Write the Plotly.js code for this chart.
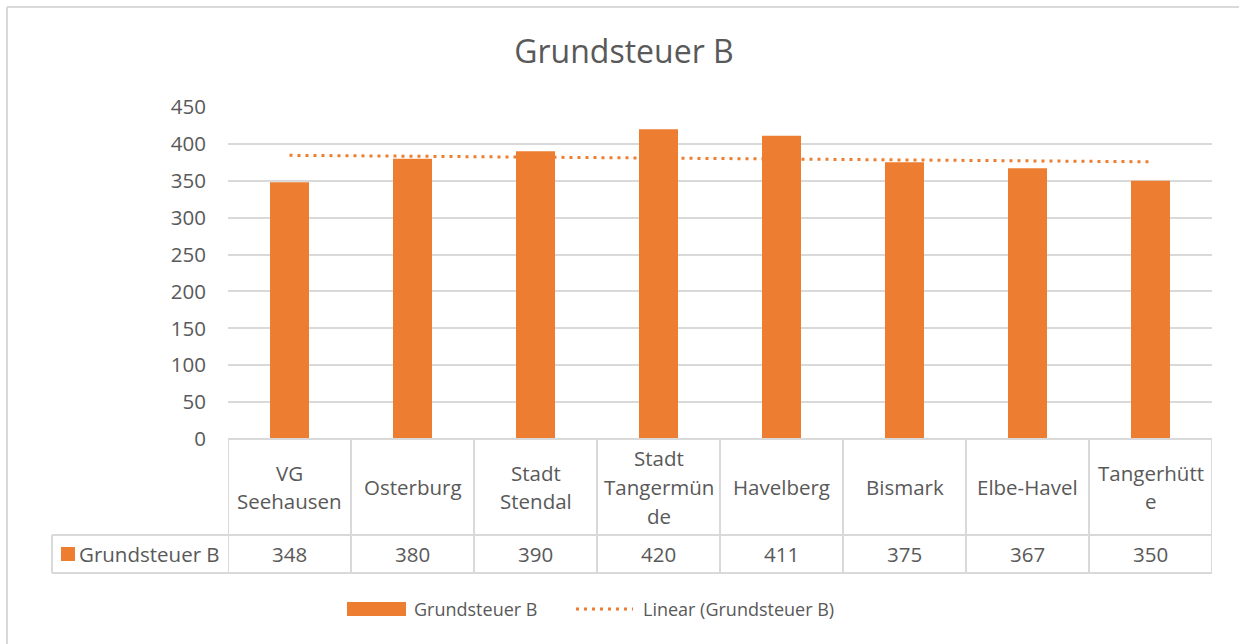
<!DOCTYPE html>
<html>
<head>
<meta charset="utf-8">
<script src="https://cdn.plot.ly/plotly-3.0.1.min.js"></script>
<style>
html,body{margin:0;padding:0;background:#fff;}
#chart{width:1239px;height:644px;}
</style>
</head>
<body>
<div id="chart"></div>
<script>
// ---- data ----
const seriesName = "Grundsteuer B";
const trendName = "Linear (Grundsteuer B)";
const categories = ["VG\nSeehausen", "Osterburg", "Stadt\nStendal", "Stadt\nTangermün\nde", "Havelberg", "Bismark", "Elbe-Havel", "Tangerhütt\ne"];
const values = [348, 380, 390, 420, 411, 375, 367, 350];
const yTicks = [0, 50, 100, 150, 200, 250, 300, 350, 400, 450];

// ---- layout geometry ----
const W = 1239, H = 644;
const PL = 228, PR = 1212, PT = 107, PB = 439;
const px = v => (v - PL) / (PR - PL);
const py = v => (PB - v) / (PB - PT);

const ORANGE = "#ED7D31";
const TEXT = "#595959";
const GRID = "#D9D9D9";
const FONT = "Open Sans, sans-serif";
const FS = 20.5;

const idx = categories.map((_, i) => i);

// linear trendline (least squares on category index)
const n = values.length;
const mx = idx.reduce((a, b) => a + b, 0) / n;
const my = values.reduce((a, b) => a + b, 0) / n;
let sxy = 0, sxx = 0;
idx.forEach((x, i) => { sxy += (x - mx) * (values[i] - my); sxx += (x - mx) * (x - mx); });
const slope = sxy / sxx;
const icpt = my - slope * mx;
const trendX = [idx[0], idx[n - 1]];
const trendY = trendX.map(x => icpt + slope * x);

const traces = [
  {
    type: "bar", x: idx, y: values, name: seriesName,
    marker: { color: ORANGE }, hoverinfo: "x+y", showlegend: false
  },
  {
    type: "scatter", mode: "lines", x: trendX, y: trendY, name: trendName,
    line: { color: ORANGE, width: 3, dash: "3px,5px" }, showlegend: false
  }
];

const shapes = [];
const annotations = [];
const lineStyle = { color: GRID, width: 2 };

// outer chart border
shapes.push({ type: "line", xref: "paper", yref: "paper", x0: px(7), x1: px(W + 5), y0: py(7), y1: py(7), line: lineStyle });
shapes.push({ type: "line", xref: "paper", yref: "paper", x0: px(7), x1: px(7), y0: py(7), y1: py(H + 5), line: lineStyle });

// data table grid
const rowTop = PB, rowMid = 535, rowBot = 573, tableLeft = 52;
shapes.push({ type: "line", xref: "paper", yref: "paper", x0: 0, x1: 1, y0: py(rowTop), y1: py(rowTop), line: lineStyle });
shapes.push({ type: "line", xref: "paper", yref: "paper", x0: px(tableLeft), x1: 1, y0: py(rowMid), y1: py(rowMid), line: lineStyle });
shapes.push({ type: "line", xref: "paper", yref: "paper", x0: px(tableLeft), x1: 1, y0: py(rowBot), y1: py(rowBot), line: lineStyle });
shapes.push({ type: "line", xref: "paper", yref: "paper", x0: px(tableLeft), x1: px(tableLeft), y0: py(rowMid), y1: py(rowBot), line: lineStyle });
for (let i = 0; i <= n; i++) {
  shapes.push({ type: "line", xref: "x", yref: "paper", x0: i - 0.5, x1: i - 0.5, y0: py(rowTop), y1: py(rowBot), line: lineStyle });
}

// category labels (multi-line) and values
const lineH = 29;
categories.forEach((c, i) => {
  const lines = c.split("\n");
  lines.forEach((t, j) => {
    const yc = (rowTop + rowMid) / 2 + (j - (lines.length - 1) / 2) * lineH;
    annotations.push({ xref: "x", yref: "paper", x: i, y: py(yc), text: t, showarrow: false,
      xanchor: "center", yanchor: "middle", font: { family: FONT, size: FS, color: TEXT } });
  });
  annotations.push({ xref: "x", yref: "paper", x: i, y: py((rowMid + rowBot) / 2), text: String(values[i]), showarrow: false,
    xanchor: "center", yanchor: "middle", font: { family: FONT, size: FS, color: TEXT } });
});

// table row header with key
shapes.push({ type: "rect", xref: "paper", yref: "paper", x0: px(61), x1: px(75), y0: py(547), y1: py(561), fillcolor: ORANGE, line: { width: 0 } });
annotations.push({ xref: "paper", yref: "paper", x: px(77), y: py(554), text: seriesName, showarrow: false,
  xanchor: "left", yanchor: "middle", font: { family: FONT, size: FS, color: TEXT } });

// legend (bottom)
const legY = 609;
shapes.push({ type: "rect", xref: "paper", yref: "paper", x0: px(347), x1: px(406), y0: py(602), y1: py(616), fillcolor: ORANGE, line: { width: 0 } });
annotations.push({ xref: "paper", yref: "paper", x: px(412), y: py(legY), text: seriesName, showarrow: false,
  xanchor: "left", yanchor: "middle", font: { family: FONT, size: 18, color: TEXT } });
shapes.push({ type: "line", xref: "paper", yref: "paper", x0: px(576), x1: px(633), y0: py(legY), y1: py(legY), line: { color: ORANGE, width: 3, dash: "3px,5px" } });
annotations.push({ xref: "paper", yref: "paper", x: px(641), y: py(legY), text: trendName, showarrow: false,
  xanchor: "left", yanchor: "middle", font: { family: FONT, size: 18, color: TEXT } });

const layout = {
  width: W, height: H,
  margin: { l: PL, r: W - PR, t: PT, b: H - PB, pad: 0 },
  paper_bgcolor: "#fff", plot_bgcolor: "#fff",
  title: { text: seriesName, x: 624 / W, xref: "container", xanchor: "center", y: 1 - 52 / H, yref: "container", yanchor: "middle",
    font: { family: FONT, size: 32, color: TEXT } },
  bargap: 0.683,
  xaxis: { range: [-0.5, n - 0.5], showticklabels: false, showgrid: false, zeroline: false, showline: false, ticks: "", fixedrange: true },
  yaxis: { range: [0, 450], tickvals: yTicks, ticktext: yTicks.map(String), showgrid: true, gridcolor: GRID, gridwidth: 2,
    zeroline: false, showline: false, ticks: "", ticklabelstandoff: 21,
    tickfont: { family: FONT, size: FS, color: TEXT }, fixedrange: true },
  showlegend: false,
  shapes: shapes,
  annotations: annotations
};

Plotly.newPlot("chart", traces, layout, { displayModeBar: false, staticPlot: true });
</script>
</body>
</html>
